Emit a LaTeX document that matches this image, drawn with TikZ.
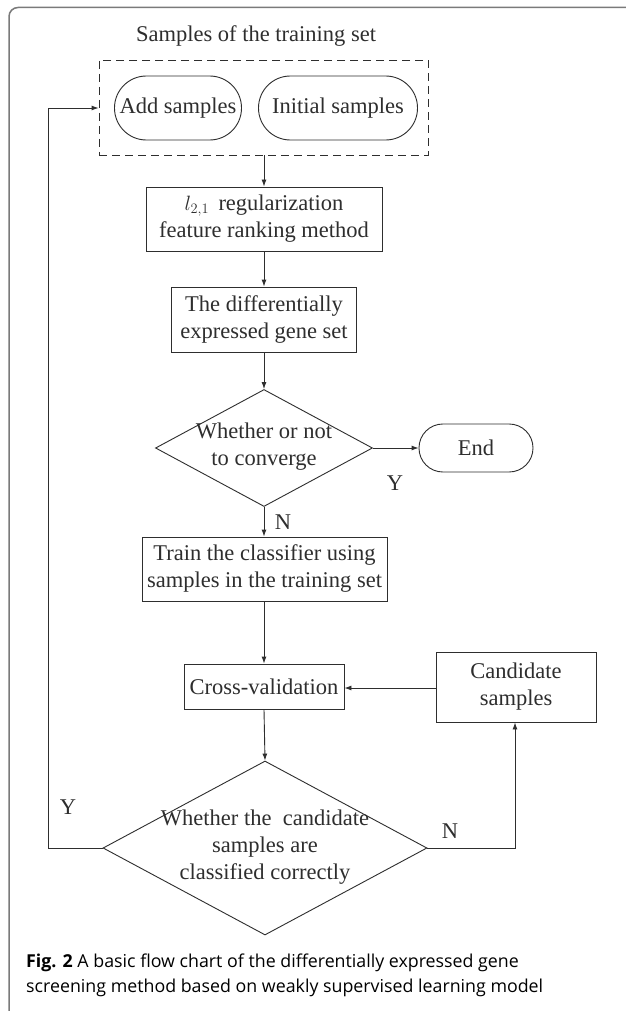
\documentclass[tikz,border=0pt]{standalone}
\usepackage{fontspec}
\setmainfont{Liberation Serif}
\newfontfamily\capfont{Open Sans}
\usetikzlibrary{shapes.geometric,arrows.meta}
\definecolor{framegray}{HTML}{7A7A7A}
\definecolor{ink}{HTML}{2E2E2E}
\begin{document}
\begin{tikzpicture}[x=1pt,y=-1pt,
  txt/.style={inner sep=0pt, align=center, text=ink, font=\fontsize{22.5}{27}\selectfont},
  box/.style={txt, draw=ink, line width=0.9pt},
  term/.style={box},
  dia/.style={draw=ink, diamond, inner sep=0pt, line width=0.9pt},
  arr/.style={draw=ink, line width=0.9pt, -{Latex[length=7pt,width=5pt]}},
  captext/.style={inner sep=0pt, anchor=base west, text=black, font=\capfont\fontsize{17.8}{25}\selectfont}
]
\useasboundingbox (0,0) rectangle (625,1011);
\fill[white] (0,0) rectangle (625,1011);
% frame
\draw[framegray, line width=1.5pt, rounded corners=9pt] (626,7.5) -- (9,7.5) -- (9,1012);

% title and dashed group
\node[txt] (title) at (256,36) {Samples of the training set};
\node[draw=ink, dash pattern=on 8pt off 5pt, line width=0.9pt, minimum width=329pt, minimum height=95pt, inner sep=0pt] (grp) at (263.5,107.5) {};
\node[term, minimum width=127pt, minimum height=64pt, rounded corners=31.9pt] (add) at (178,108) {Add samples};
\node[term, minimum width=159pt, minimum height=64pt, rounded corners=31.9pt] (init) at (338,108) {Initial samples};

% main chain
\node[box, minimum width=236pt, minimum height=64pt] (reg) at (264,219) {$l_{2,1}$\, regularization\\feature ranking method};
\node[box, minimum width=185pt, minimum height=65pt] (deg) at (264,319.5) {The differentially\\expressed gene set};
\node[dia, minimum width=217pt, minimum height=117pt] (conv) at (264,448) {};
\node[txt] (convt) at (264,447) {Whether or not\\to converge};
\node[term, minimum width=114pt, minimum height=48pt, rounded corners=23.9pt] (end) at (476,448) {End};
\node[box, minimum width=245pt, minimum height=64pt] (train) at (264.5,569) {Train the classifier using\\samples in the training set};
\node[box, minimum width=160pt, minimum height=45pt] (cv) at (264,686.5) {Cross-validation};
\node[box, minimum width=160pt, minimum height=70pt] (cand) at (516,687) {Candidate\\samples};
\node[dia, minimum width=324pt, minimum height=174pt] (chk) at (265,848) {};
\node[txt] (chkt) at (265,847) {Whether the\ \ candidate\\samples are\\classified correctly};

% helper coordinates
\coordinate (ly) at (48,848);
\coordinate (lt) at (48,108);
\coordinate (rn) at (515,848);

% connectors
\draw[arr] (grp.south -| reg.north) -- (reg.north);
\draw[arr] (reg) -- (deg);
\draw[arr] (deg) -- (conv.north);
\draw[arr] (conv.east) -- (end.west);
\draw[arr] (conv.south) -- (train.north -| conv.south);
\draw[arr] (train.south -| cv.north) -- (cv.north);
\draw[arr] (cand.west |- 0,688) -- (cv.east |- 0,688);
\draw[arr] (cv.south) -- (chk.north);
\draw[arr] (chk.east) -- (rn) -- (cand.south -| rn);
\draw[arr] (chk.west) -- (ly) -- (lt) -- (grp.west |- lt);

% edge labels
\node[txt] (y1) at (395,483) {Y};
\node[txt] (n1) at (283,522) {N};
\node[txt] (y2) at (68,807) {Y};
\node[txt] (n2) at (450,831) {N};

% caption
\node[captext] (cap1) at (26,967) {\textbf{Fig. 2} A basic flow chart of the differentially expressed gene};
\node[captext] (cap2) at (26,992) {screening method based on weakly supervised learning model};
\end{tikzpicture}
\end{document}
